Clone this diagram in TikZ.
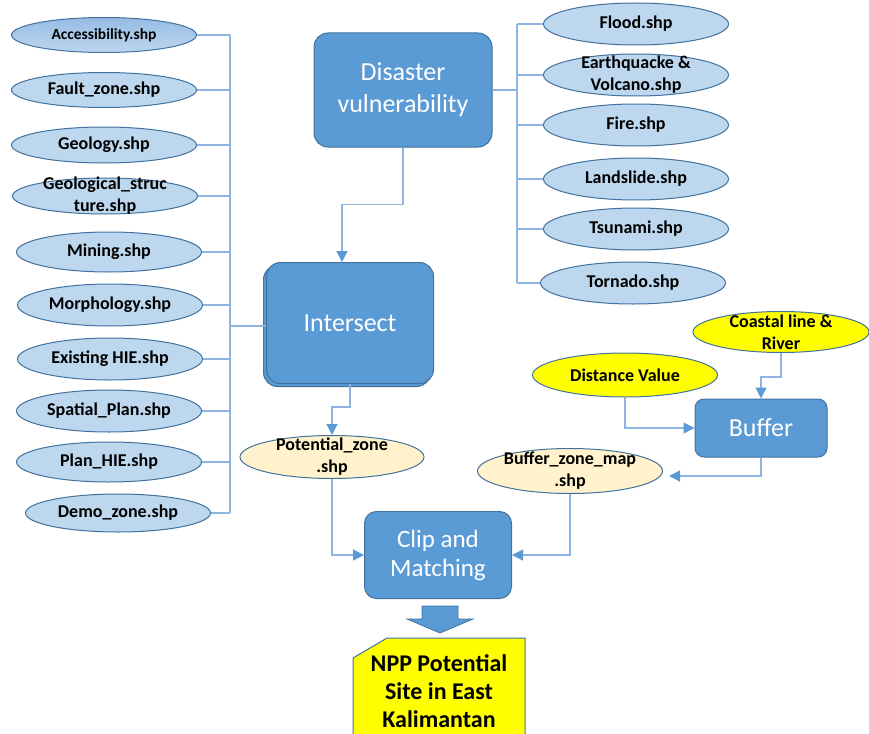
\documentclass[tikz,border=0pt]{standalone}
\usepackage{fontspec}
\setmainfont{Carlito}
\usetikzlibrary{arrows.meta, positioning, shapes.geometric, shadows, backgrounds, calc}
\definecolor{boxBlue}{RGB}{91,155,213}
\definecolor{boxEdge}{RGB}{65,113,156}
\definecolor{shpBlue}{RGB}{189,215,238}
\definecolor{accBlue}{RGB}{150,188,228}
\definecolor{lineBlue}{RGB}{141,180,226}
\definecolor{headBlue}{RGB}{91,155,213}
\definecolor{outCream}{RGB}{255,242,204}
\definecolor{inYellow}{RGB}{255,255,0}
\tikzset{
    procbox/.style={
        rectangle,
        draw=boxEdge,
        line width=1pt,
        rounded corners=14pt,
        fill=boxBlue,
        text=white,
        align=center,
        font=\fontsize{26}{32}\selectfont
    },
    shpnode/.style={
        ellipse,
        draw=boxEdge,
        line width=1pt,
        fill=shpBlue,
        align=center,
        minimum width=185pt,
        minimum height=42pt,
        inner sep=0pt,
        font=\bfseries\fontsize{18}{22}\selectfont
    },
    outnode/.style={shpnode, fill=outCream},
    innode/.style={shpnode, fill=inYellow},
    twoline/.style={inner ysep=-8pt},
    resultbox/.style={
        rectangle,
        align=center,
        inner sep=0pt,
        font=\bfseries\fontsize{24}{28}\selectfont
    },
    busline/.style={draw=lineBlue, line width=1.2pt},
    flowarrow/.style={busline, -{Triangle[length=11pt, width=11pt, color=headBlue]}}
}
\begin{document}
\begin{tikzpicture}[x=1pt, y=-1pt]
    \useasboundingbox (0,0) rectangle (869,733);
    \clip (0,0) rectangle (869,733);
    % layers on the left
    \node[shpnode, top color=accBlue, bottom color=shpBlue, minimum height=35pt, font=\bfseries\fontsize{15.5}{18}\selectfont] (access) at (104,35) {Accessibility.shp};
    \node[shpnode, minimum height=35pt] (fault) at (104,90) {Fault\_zone.shp};
    \node[shpnode, minimum height=36pt] (geology) at (104,145) {Geology.shp};
    \node[shpnode, twoline, inner ysep=-10pt, minimum height=36pt] (geostruct) at (105,196) {Geological\_struc\\ture.shp};
    \node[shpnode, minimum height=40pt] (mining) at (109,252) {Mining.shp};
    \node[shpnode] (morph) at (110,305) {Morphology.shp};
    \node[shpnode] (exhie) at (110,359) {Existing HIE.shp};
    \node[shpnode] (spatial) at (109,411) {Spatial\_Plan.shp};
    \node[shpnode, minimum height=40pt] (planhie) at (109,462) {Plan\_HIE.shp};
    \node[shpnode, minimum height=38pt] (demo) at (118,513) {Demo\_zone.shp};
    % disaster layers on the right
    \node[shpnode] (flood) at (636,24) {Flood.shp};
    \node[shpnode, twoline] (quake) at (636,75) {Earthquacke \&\\Volcano.shp};
    \node[shpnode] (fire) at (636,125) {Fire.shp};
    \node[shpnode] (landslide) at (636,179) {Landslide.shp};
    \node[shpnode] (tsunami) at (636,229) {Tsunami.shp};
    \node[shpnode] (tornado) at (633,283) {Tornado.shp};
    % processes
    \node[procbox, minimum width=178pt, minimum height=114pt] (disaster) at (403,90) {Disaster\\vulnerability};
    \node[procbox, minimum width=167pt, minimum height=121pt, copy shadow={shadow xshift=-3pt, shadow yshift=-3pt}] (intersect) at (350,323) {Intersect};
    \node[procbox, rounded corners=9pt, minimum width=132pt, minimum height=58pt] (buffer) at (761,428) {Buffer};
    \node[procbox, rounded corners=12pt, minimum width=147pt, minimum height=87pt, font=\fontsize{25}{29}\selectfont] (clip) at (438,555) {Clip and\\Matching};
    % inputs and outputs
    \node[innode, twoline, minimum width=176pt, minimum height=41pt] (coastal) at (781,332) {Coastal line \&\\River};
    \node[innode, minimum height=44pt] (distance) at (625,375) {Distance Value};
    \node[outnode, twoline, minimum width=184pt, minimum height=43pt] (potzone) at (332,457) {Potential\_zone\\.shp};
    \node[outnode, twoline, inner xsep=-4pt, minimum height=45pt] (bufzone) at (570,471) {Buffer\_zone\_map\\.shp};
    \node[resultbox] (npp) at (439,691) {NPP Potential\\Site in East\\Kalimantan};
    \begin{scope}[on background layer]
        \draw[fill=inYellow, draw=boxEdge, line width=1pt] ($(npp.center)+(-86,-33)$) -- ($(npp.center)+(-52,-53)$) -- ($(npp.center)+(86,-53)$) -- ($(npp.center)+(86,70)$) -- ($(npp.center)+(-86,70)$) -- cycle;
    \end{scope}
    % left bus into intersect
    \coordinate (lbus) at (230,326);
    \foreach \n in {access, fault, geology, geostruct, mining, morph, exhie, spatial, planhie, demo}
        \draw[busline] (\n.east) -- (\n.east -| lbus);
    \draw[busline] (access.east -| lbus) -- (demo.east -| lbus);
    \draw[busline] (lbus) -- (lbus -| intersect.west);
    % right bus from disaster
    \coordinate (rbus) at (517,90);
    \foreach \n in {flood, quake, fire, landslide, tsunami, tornado}
        \draw[busline] (\n.west) -- (\n.west -| rbus);
    \draw[busline] (flood.west -| rbus) -- (tornado.west -| rbus);
    \draw[busline] (disaster.east) -- (rbus);
    % flow
    \draw[flowarrow] (disaster.south) -- ++(0,57) -| ($(intersect.north)+(-8,0)$);
    \draw[flowarrow] (intersect.south) -- ++(0,23) -| (potzone.north);
    \draw[flowarrow] (coastal.south) -- ++(0,24) -| (buffer.north);
    \draw[flowarrow] (distance.south) |- (buffer.west);
    \draw[flowarrow] (buffer.south) |- ([xshift=6pt, yshift=-5pt]bufzone.east);
    \draw[flowarrow] (potzone.south) |- (clip.west);
    \draw[flowarrow] (bufzone.south) |- (clip.east);
    % block arrow to result
    \draw[fill=boxBlue, draw=boxEdge, line width=0.8pt] ($(clip.south)+(-16,7)$) -- ++(36,0) -- ++(0,13) -- ++(15,0) -- ($(clip.south)+(2,34)$) -- ++(-33,-14) -- ++(15,0) -- cycle;
\end{tikzpicture}
\end{document}
